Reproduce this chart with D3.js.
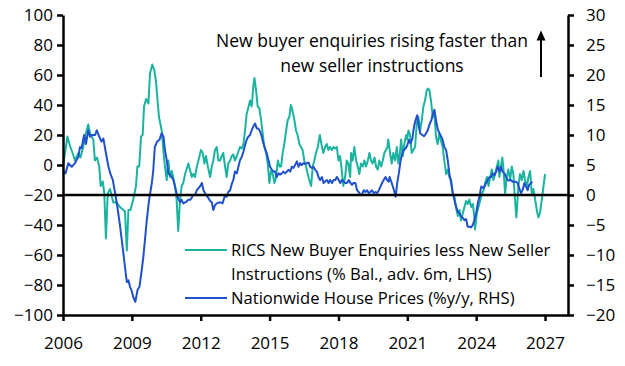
<!DOCTYPE html>
<html>
<head>
<meta charset="utf-8">
<script src="https://cdn.jsdelivr.net/npm/d3@7"></script>
<style>
  body { margin: 0; background: #fff; }
  text { font-family: "Open Sans", sans-serif; fill: #000; }
</style>
</head>
<body>
<svg id="chart" width="625" height="366"></svg>
<script>
// RICS new buyer enquiries less new seller instructions (% bal., advanced 6m) - LHS
const ricsSeries = [[2006.0,0],[2006.11,10],[2006.19,19],[2006.3,13],[2006.44,7],[2006.52,3],[2006.67,8],[2006.76,5],[2006.88,12],[2006.96,19],[2007.1,27],[2007.18,21],[2007.32,17],[2007.39,3],[2007.48,5],[2007.58,-1],[2007.64,-14],[2007.73,-11],[2007.8,-19],[2007.87,-49],[2007.95,-19],[2008.05,-16],[2008.19,-25],[2008.34,-25],[2008.48,-28],[2008.63,-30],[2008.7,-31],[2008.78,-57],[2008.85,-30],[2008.94,-30],[2009.06,-23],[2009.18,-14],[2009.24,-1],[2009.32,-1],[2009.4,19],[2009.47,20],[2009.53,39],[2009.62,44],[2009.72,41],[2009.79,61],[2009.89,67],[2009.98,63],[2010.05,56],[2010.13,41],[2010.18,32],[2010.3,23],[2010.37,10],[2010.44,-1],[2010.52,-10],[2010.59,3],[2010.66,-8],[2010.74,-4],[2010.81,-9],[2010.88,-14],[2010.95,-23],[2011.02,-44],[2011.1,-23],[2011.17,-14],[2011.24,-12],[2011.32,-6],[2011.46,1],[2011.53,-3],[2011.61,-8],[2011.68,-6],[2011.75,-8],[2011.83,-1],[2011.9,3],[2012.01,10],[2012.09,8],[2012.16,1],[2012.23,6],[2012.31,-1],[2012.41,-8],[2012.48,-1],[2012.55,3],[2012.62,10],[2012.7,12],[2012.77,3],[2012.84,3],[2012.92,6],[2012.98,8],[2013.06,-1],[2013.13,-8],[2013.2,1],[2013.28,3],[2013.35,6],[2013.42,7],[2013.49,3],[2013.57,6],[2013.64,9],[2013.71,12],[2013.79,11],[2013.86,14],[2013.93,23],[2014.0,34],[2014.07,38],[2014.15,43],[2014.22,39],[2014.29,52],[2014.34,58],[2014.41,50],[2014.48,39],[2014.55,38],[2014.63,30],[2014.7,21],[2014.77,12],[2014.85,8],[2014.92,1],[2014.99,-12],[2015.06,-4],[2015.14,-6],[2015.21,-12],[2015.28,-8],[2015.36,3],[2015.43,-1],[2015.5,-1],[2015.57,8],[2015.64,14],[2015.72,23],[2015.79,30],[2015.86,32],[2015.93,40],[2016.0,36],[2016.08,30],[2016.15,23],[2016.22,20],[2016.3,14],[2016.37,12],[2016.44,10],[2016.51,3],[2016.59,-1],[2016.66,-6],[2016.73,-10],[2016.81,-14],[2016.88,-1],[2016.95,3],[2017.02,8],[2017.1,12],[2017.19,20],[2017.27,13],[2017.34,8],[2017.42,12],[2017.49,14],[2017.56,10],[2017.63,12],[2017.71,10],[2017.78,12],[2017.85,11],[2017.93,12],[2018.0,3],[2018.07,6],[2018.14,-3],[2018.21,-14],[2018.29,-8],[2018.36,3],[2018.43,1],[2018.51,-8],[2018.55,8],[2018.62,3],[2018.69,12],[2018.77,3],[2018.84,-1],[2018.91,-6],[2018.98,1],[2019.06,-1],[2019.13,3],[2019.2,-1],[2019.28,3],[2019.35,8],[2019.42,3],[2019.49,1],[2019.57,5],[2019.64,-1],[2019.71,-3],[2019.78,3],[2019.86,-1],[2019.93,3],[2020.0,8],[2020.07,10],[2020.13,12],[2020.17,17],[2020.25,8],[2020.32,1],[2020.39,8],[2020.47,3],[2020.54,12],[2020.61,1],[2020.68,8],[2020.73,17],[2020.8,6],[2020.87,14],[2020.95,20],[2020.99,17],[2021.05,23],[2021.12,20],[2021.19,8],[2021.26,10],[2021.34,12],[2021.41,28],[2021.48,32],[2021.56,23],[2021.63,30],[2021.7,39],[2021.77,43],[2021.85,50],[2021.9,51],[2021.96,50],[2022.03,43],[2022.11,32],[2022.18,34],[2022.25,19],[2022.32,14],[2022.4,21],[2022.47,16],[2022.54,12],[2022.61,3],[2022.69,-6],[2022.76,-3],[2022.83,-8],[2022.91,-10],[2022.98,-19],[2023.05,-21],[2023.12,-28],[2023.2,-34],[2023.27,-30],[2023.34,-37],[2023.42,-32],[2023.49,-28],[2023.56,-24],[2023.63,-26],[2023.7,-23],[2023.78,-28],[2023.85,-26],[2023.92,-34],[2023.95,-43],[2024.03,-32],[2024.1,-28],[2024.17,-24],[2024.25,-19],[2024.32,-17],[2024.39,-12],[2024.47,-8],[2024.54,-14],[2024.61,-8],[2024.68,-3],[2024.75,-10],[2024.82,-6],[2024.9,-1],[2024.97,3],[2025.01,-8],[2025.08,-1],[2025.14,5],[2025.19,-3],[2025.26,-19],[2025.33,-8],[2025.4,-3],[2025.48,-10],[2025.55,-1],[2025.62,-6],[2025.69,-23],[2025.75,-35],[2025.84,-14],[2025.91,-6],[2025.99,-10],[2026.06,-4],[2026.13,-10],[2026.21,-14],[2026.28,-8],[2026.35,-4],[2026.42,-19],[2026.49,-16],[2026.57,-23],[2026.64,-30],[2026.71,-35],[2026.78,-32],[2026.86,-23],[2027.0,-6]];

// Nationwide house prices, %y/y - RHS
const nationwideSeries = [[2006.0,4],[2006.11,3.6],[2006.23,5.3],[2006.38,4.7],[2006.52,5.3],[2006.67,6.4],[2006.74,8],[2006.81,7.8],[2006.92,10],[2007.0,8.5],[2007.1,10.8],[2007.18,9.7],[2007.25,10],[2007.4,10],[2007.47,10.8],[2007.58,9.7],[2007.68,8.9],[2007.76,9.4],[2007.87,7],[2007.98,4.7],[2008.06,3.6],[2008.17,2.5],[2008.27,0.3],[2008.37,-2],[2008.48,-5],[2008.56,-7.5],[2008.63,-9.7],[2008.7,-12],[2008.78,-14.5],[2008.85,-14.2],[2008.92,-15.3],[2008.98,-15.8],[2009.06,-17],[2009.15,-17.8],[2009.25,-15.8],[2009.33,-15.3],[2009.43,-12.5],[2009.5,-10.3],[2009.57,-7.5],[2009.65,-4.2],[2009.75,-0.8],[2009.87,2],[2009.93,4],[2010.0,8],[2010.1,8.9],[2010.2,9.2],[2010.3,10.3],[2010.38,9.7],[2010.44,7.5],[2010.52,5.8],[2010.59,3.6],[2010.7,3.2],[2010.81,2.5],[2010.88,1.4],[2010.95,0.3],[2011.02,-0.6],[2011.1,-1.2],[2011.17,-0.8],[2011.24,-1.4],[2011.35,-1.2],[2011.46,-0.8],[2011.55,-0.8],[2011.68,0],[2011.75,0],[2011.83,0.8],[2011.98,1.5],[2012.05,2],[2012.12,0.8],[2012.23,0],[2012.3,-0.3],[2012.41,-1],[2012.48,-1.2],[2012.55,-2.5],[2012.62,-1.7],[2012.7,-1.4],[2012.84,-1.2],[2012.95,-1.4],[2013.06,0],[2013.13,-0.3],[2013.2,0.5],[2013.28,0.8],[2013.35,1.8],[2013.42,2.5],[2013.49,3.9],[2013.57,3.6],[2013.64,4.7],[2013.71,5.8],[2013.79,6.4],[2013.86,7.2],[2013.93,8.3],[2014.0,9.2],[2014.07,9.7],[2014.15,10],[2014.22,10.8],[2014.29,11.4],[2014.37,11.9],[2014.44,11.1],[2014.51,11.1],[2014.59,10.6],[2014.66,9.7],[2014.73,8.6],[2014.8,7.8],[2014.88,6.9],[2014.95,5.8],[2015.02,4.7],[2015.1,4.2],[2015.17,3.9],[2015.24,3.9],[2015.31,3],[2015.39,3.6],[2015.46,3.4],[2015.53,3.6],[2015.6,3.9],[2015.68,3.6],[2015.75,3.9],[2015.82,4.2],[2015.9,3.9],[2015.97,4.7],[2016.04,4.5],[2016.11,5],[2016.19,5.6],[2016.26,4.7],[2016.33,5.3],[2016.4,5],[2016.48,5.3],[2016.55,5.2],[2016.62,5.3],[2016.7,5.4],[2016.77,4.7],[2016.84,4.5],[2016.91,4.7],[2016.99,4.2],[2017.06,3.9],[2017.13,3],[2017.2,2.5],[2017.28,3],[2017.35,2],[2017.43,2.3],[2017.5,2.5],[2017.57,2],[2017.64,2.5],[2017.72,2],[2017.79,2.5],[2017.86,2.5],[2017.93,3],[2018.01,2.5],[2018.08,2],[2018.15,2.5],[2018.23,2.2],[2018.3,2],[2018.37,2],[2018.45,2.5],[2018.52,2],[2018.59,1.7],[2018.66,2],[2018.74,2],[2018.81,0.8],[2018.88,0.5],[2018.95,0],[2019.03,0.2],[2019.1,0.8],[2019.17,0.5],[2019.25,0.8],[2019.32,0.3],[2019.39,0.5],[2019.46,0.8],[2019.54,0.3],[2019.61,0.5],[2019.68,0.3],[2019.76,0.8],[2019.83,1.4],[2019.9,2],[2019.97,2.5],[2020.05,3],[2020.12,2.5],[2020.19,2.2],[2020.23,3],[2020.32,2],[2020.42,0.8],[2020.49,-0.3],[2020.56,2],[2020.63,3.6],[2020.71,5.8],[2020.78,6.9],[2020.85,7.5],[2020.93,7.8],[2021.0,8.3],[2021.07,9.2],[2021.14,8.6],[2021.22,9.4],[2021.29,11.4],[2021.36,12.5],[2021.43,13.3],[2021.5,11.4],[2021.56,10.3],[2021.65,10],[2021.73,9.8],[2021.82,10.3],[2021.89,10.8],[2021.98,11.9],[2022.05,12.5],[2022.11,13.5],[2022.18,14.2],[2022.25,12.5],[2022.32,11],[2022.4,10.3],[2022.47,9.8],[2022.54,9.2],[2022.61,8],[2022.69,7.5],[2022.76,5.8],[2022.83,3.6],[2022.91,2],[2022.98,0.3],[2023.05,-0.8],[2023.12,-1.9],[2023.2,-2.8],[2023.27,-3],[2023.34,-3.6],[2023.42,-3.8],[2023.49,-4.2],[2023.56,-4],[2023.63,-5.3],[2023.7,-5.3],[2023.78,-5.4],[2023.85,-5],[2023.92,-4.2],[2024.0,-3],[2024.07,-1.4],[2024.14,-0.3],[2024.22,1.4],[2024.29,1.2],[2024.36,1.4],[2024.43,2],[2024.5,2.5],[2024.58,3],[2024.65,3],[2024.72,3.6],[2024.8,3.3],[2024.87,3.9],[2024.94,4.7],[2025.01,3.9],[2025.08,4.7],[2025.15,3.9],[2025.23,3.6],[2025.3,3],[2025.37,2.5],[2025.44,2.4],[2025.51,2.5],[2025.59,2.2],[2025.66,2.2],[2025.73,2.2],[2025.8,2],[2025.88,1.1],[2025.95,0.3],[2026.02,0.8],[2026.1,2],[2026.17,1.4],[2026.24,0.8],[2026.31,1.7],[2026.39,2],[2026.45,2.2]];

const xTicks = [2006, 2009, 2012, 2015, 2018, 2021, 2024, 2027];
const leftTicks = [-100, -80, -60, -40, -20, 0, 20, 40, 60, 80, 100];
const rightTicks = [-20, -15, -10, -5, 0, 5, 10, 15, 20, 25, 30];

const legendLabels = [
  ["RICS New Buyer Enquiries less New Seller", "Instructions (% Bal., adv. 6m, LHS)"],
  ["Nationwide House Prices (%y/y, RHS)"]
];
const annotation = ["New buyer enquiries rising faster than", "new seller instructions"];

const teal = "#1ab3a0";
const blue = "#2050cc";

const svg = d3.select("#chart");
const plotLeft = 63, plotRight = 568, plotTop = 15, plotBottom = 315;

const x = d3.scaleLinear().domain([2006, 2028]).range([plotLeft, plotRight]);
const yL = d3.scaleLinear().domain([-100, 100]).range([plotBottom, plotTop]);
const yR = d3.scaleLinear().domain([-20, 30]).range([plotBottom, plotTop]);

// series
svg.append("path")
  .datum(ricsSeries)
  .attr("fill", "none")
  .attr("stroke", teal)
  .attr("stroke-width", 2)
  .attr("stroke-linejoin", "round")
  .attr("d", d3.line().x(d => x(d[0])).y(d => yL(d[1])));

svg.append("path")
  .datum(nationwideSeries)
  .attr("fill", "none")
  .attr("stroke", blue)
  .attr("stroke-width", 2)
  .attr("stroke-linejoin", "round")
  .attr("d", d3.line().x(d => x(d[0])).y(d => yR(d[1])));

// zero line of the RHS
svg.append("line")
  .attr("x1", plotLeft).attr("x2", plotRight)
  .attr("y1", yR(0)).attr("y2", yR(0))
  .attr("stroke", "#000")
  .attr("stroke-width", 2.5);

// axes
function styleAxis(g) {
  g.select(".domain").attr("stroke-width", 2.5);
  g.selectAll(".tick line").attr("stroke-width", 2.5);
  g.selectAll(".tick text").attr("font-size", 17).attr("font-family", "'Open Sans', sans-serif");
}

svg.append("g")
  .attr("transform", `translate(${plotLeft},0)`)
  .call(d3.axisLeft(yL).tickValues(leftTicks).tickSize(6).tickSizeOuter(0).tickPadding(4))
  .call(styleAxis);

svg.append("g")
  .attr("transform", `translate(${plotRight},0)`)
  .call(d3.axisRight(yR).tickValues(rightTicks).tickSize(6).tickSizeOuter(0).tickPadding(12))
  .call(styleAxis);

svg.append("g")
  .attr("transform", `translate(0,${plotBottom})`)
  .call(d3.axisBottom(x).tickValues(xTicks).tickFormat(d3.format("d")).tickSize(6).tickSizeOuter(0).tickPadding(16))
  .call(styleAxis);

// annotation
svg.append("text")
  .attr("x", 372).attr("y", 47)
  .attr("text-anchor", "middle")
  .attr("font-size", 17.5)
  .selectAll("tspan")
  .data(annotation)
  .join("tspan")
    .attr("x", 372)
    .attr("dy", (d, i) => i ? 24.5 : 0)
    .text(d => d);

svg.append("line")
  .attr("x1", 541).attr("x2", 541)
  .attr("y1", 77).attr("y2", 38)
  .attr("stroke", "#000")
  .attr("stroke-width", 2);

svg.append("path")
  .attr("d", "M536.5,40.5 L541,30.5 L545.5,40.5 Z")
  .attr("fill", "#000");

// legend
const legend = svg.append("g").attr("transform", "translate(185,250)");
const legendColors = [teal, blue];
legendLabels.forEach((lines, i) => {
  const y0 = i * 48;
  legend.append("line")
    .attr("x1", 0).attr("x2", 42)
    .attr("y1", y0).attr("y2", y0)
    .attr("stroke", legendColors[i])
    .attr("stroke-width", 2);
  lines.forEach((t, j) => {
    legend.append("text")
      .attr("x", 46).attr("y", y0 + j * 24 + 6)
      .attr("font-size", 16.6)
      .text(t);
  });
});
</script>
</body>
</html>
